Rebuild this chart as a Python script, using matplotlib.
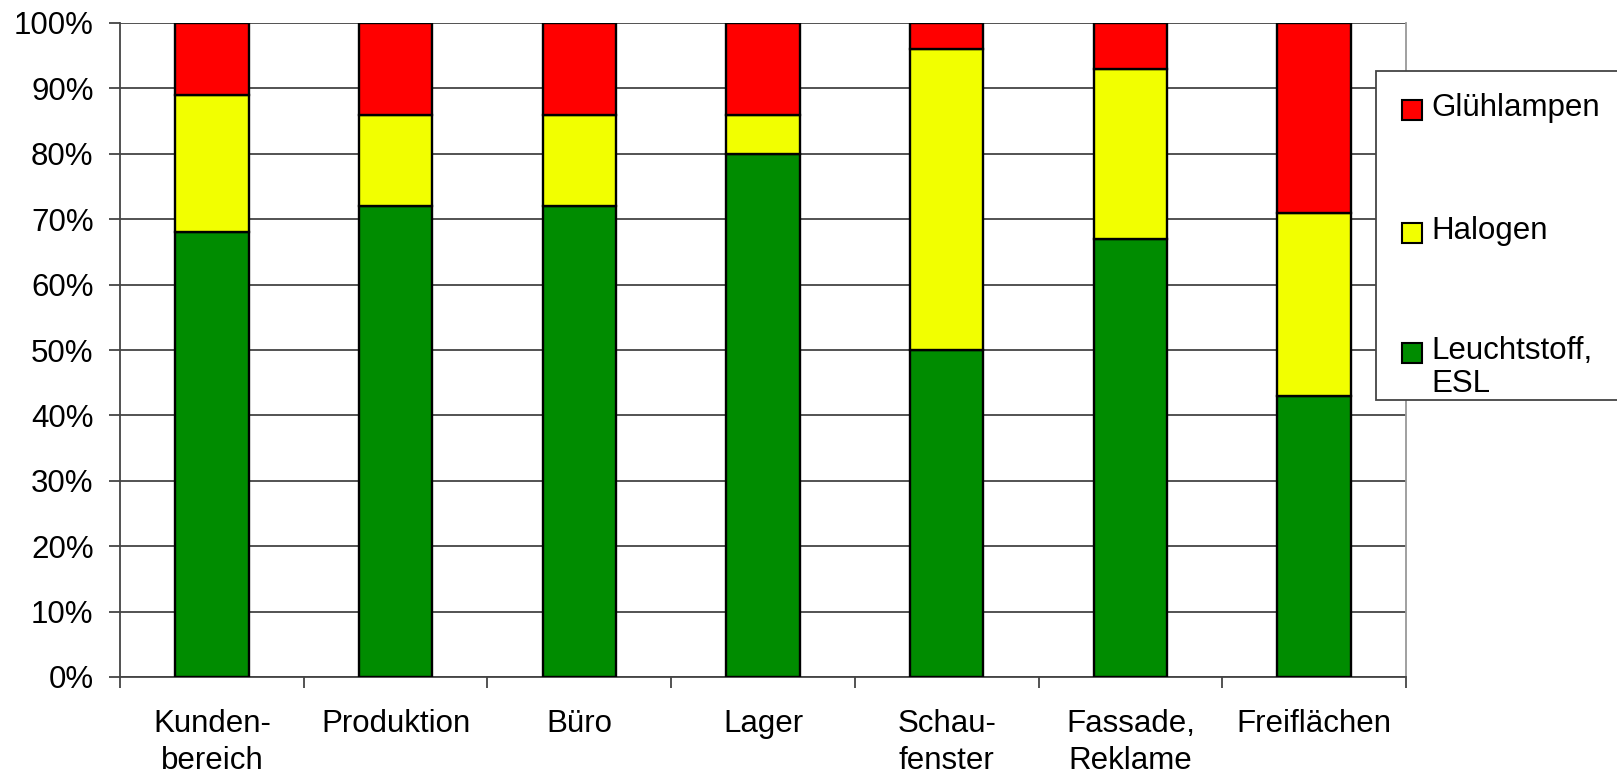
import numpy as np
import matplotlib.pyplot as plt
from matplotlib.patches import Rectangle

plt.rcParams['font.family'] = ['Liberation Sans', 'DejaVu Sans']

bereiche = ["Kunden-\nbereich", "Produktion", "Büro", "Lager", "Schau-\nfenster", "Fassade,\nReklame", "Freiflächen"]
leuchtstoff = [68, 72, 72, 80, 50, 67, 43]
halogen = [21, 14, 14, 6, 46, 26, 28]
gluehlampen = [11, 14, 14, 14, 4, 7, 29]

serien = ["Glühlampen", "Halogen", "Leuchtstoff,\nESL"]
farben = ["#ff0000", "#f2ff00", "#008c00"]
fs = 22.5

fig = plt.figure(figsize=(16.17, 7.8), dpi=100)
ax = fig.add_axes([120/1617, 1-677/780, (1406-120)/1617, (677-23)/780])

x = np.arange(len(bereiche))
kw = dict(width=0.4, edgecolor="black", linewidth=1.7, zorder=3)
ax.bar(x, leuchtstoff, color=farben[2], **kw)
ax.bar(x, halogen, bottom=leuchtstoff, color=farben[1], **kw)
unten = np.array(leuchtstoff) + np.array(halogen)
ax.bar(x, gluehlampen, bottom=unten, color=farben[0], **kw)

ax.set_xlim(-0.5, len(bereiche) - 0.5)
ax.set_ylim(0, 100)
ax.set_yticks(np.arange(0, 101, 10))
ax.set_yticklabels([f"{v}%" for v in range(0, 101, 10)], fontsize=fs)
ax.yaxis.grid(True, color="#444444", linewidth=1.3, zorder=0)

ax.set_xticks(x)
ax.set_xticklabels(bereiche, fontsize=fs, linespacing=1.3)
ax.set_xticks(np.arange(-0.5, len(bereiche)), minor=True)
ax.tick_params(axis="x", which="major", length=0, pad=23)
ax.tick_params(axis="x", which="minor", length=8, width=1.3, color="#444444")
ax.tick_params(axis="y", length=8, width=1.3, color="#444444", pad=11)

for s in ["left", "bottom"]:
    ax.spines[s].set_color("#444444")
    ax.spines[s].set_linewidth(1.3)
ax.spines["top"].set_visible(False)
ax.spines["right"].set_color("#999999")
ax.spines["right"].set_linewidth(1.3)

# legend box on the right, reaching past the figure edge
fig.patches.append(Rectangle((1376/1617, 1-400/780), 0.3, (400-71)/780,
                             transform=fig.transFigure, facecolor="white",
                             edgecolor="#444444", linewidth=1.3, zorder=5))
ypos = [110, 233, 353]
for name, col, yy in zip(serien, farben, ypos):
    fig.patches.append(Rectangle((1402/1617, 1-(yy+10)/780), 20/1617, 20/780,
                                 transform=fig.transFigure, facecolor=col,
                                 edgecolor="black", linewidth=1.5, zorder=6))
    fig.text(1431/1617, 1-(yy-17)/780, name, fontsize=fs, va="top",
             ha="left", linespacing=1.15, zorder=7)

fig.savefig("out.png", dpi=100)
